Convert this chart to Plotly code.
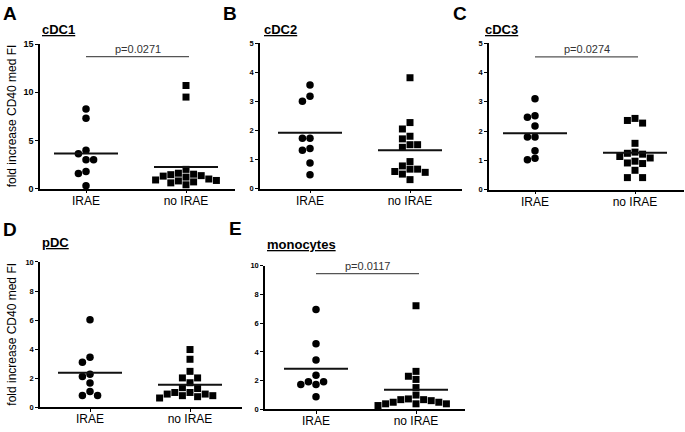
import numpy as np
import plotly.graph_objects as go

W, H = 685, 432

# ---------------- data ----------------
groups = ["IRAE", "no IRAE"]
panel_names = ["cDC1", "cDC2", "cDC3", "pDC", "monocytes"]
panel_letters = ["A", "B", "C", "D", "E"]

cdc1_irae = [8.26, 7.31, 3.98, 3.61, 3.0, 3.0, 1.79, 1.58, 0.30]
cdc1_no = [10.7, 9.5, 2.0, 1.6, 1.45, 1.5, 1.35, 1.3, 1.2, 1.0, 0.9, 0.85, 0.8, 0.7, 0.6, 0.4]

cdc2_irae = [3.56, 3.17, 3.0, 1.73, 1.73, 1.38, 1.32, 0.88, 0.48]
cdc2_no = [3.81, 2.27, 2.05, 1.8, 1.71, 1.51, 1.51, 1.42, 0.93, 0.78, 0.67, 0.67, 0.59, 0.56, 0.5, 0.31]

cdc3_irae = [3.10, 2.52, 2.47, 2.17, 1.80, 1.80, 1.33, 1.07, 1.02]
cdc3_no = [2.43, 2.36, 2.27, 1.58, 1.28, 1.24, 1.21, 1.13, 1.08, 0.97, 0.91, 0.89, 0.66, 0.41, 0.41]

pdc_irae = [6.02, 3.45, 3.11, 2.28, 2.13, 1.68, 1.10, 0.83, 0.83]
pdc_no = [3.98, 3.31, 2.48, 2.03, 2.03, 1.70, 1.36, 1.30, 1.03, 0.92, 0.81, 0.65, 0.74, 0.81, 0.92, 1.03]

mono_irae = [6.95, 4.57, 3.44, 2.38, 1.92, 1.92, 1.74, 1.74, 0.88]
mono_no = [7.22, 2.65, 2.31, 2.09, 1.52, 1.0, 0.73, 0.68, 0.68, 0.61, 0.5, 0.5, 0.39, 0.39, 0.39, 0.27]

irae_sets = [cdc1_irae, cdc2_irae, cdc3_irae, pdc_irae, mono_irae]
no_sets = [cdc1_no, cdc2_no, cdc3_no, pdc_no, mono_no]

y_max = [15, 5, 5, 10, 10]
y_dtick = [5, 1, 1, 2, 2]
p_labels = ["p=0.0271", None, "p=0.0274", None, "p=0.0117"]
p_heights = [13.7, None, 4.53, None, 9.46]

y_title = "fold increase CD40 med FI"

# ---------------- layout geometry (pixels) ----------------
boxes = [(40, 235, 40, 188), (260, 462, 39, 188), (489, 684, 39, 189),
         (40, 242, 263, 412), (265, 465, 267, 414)]
x_ranges = [(-0.46, 1.49), (-0.50, 1.52), (-0.46, 1.49), (-0.50, 1.52), (-0.51, 1.49)]
letter_pos = [(1, 9), (221, 9), (451, 9), (1, 230), (227, 229)]
sub_pos = [(40, 25), (262, 25), (483, 25), (40, 243), (265, 245)]
tick_font_size = [9, 7.5, 7.5, 7.5, 7.5]
xlabel_standoff = [-3, -3, -3, -4, -4]

FONT = "Liberation Sans, Arial, sans-serif"


def px(xp):
    return xp / W


def py(yp):
    return 1 - yp / H


def swarm(values, ppu_y, ppu_x, d=7.6):
    order = sorted(range(len(values)), key=lambda i: -values[i])
    placed = []
    offs = [0.0] * len(values)
    cands = [0]
    for k in range(1, 12):
        cands += [-k, k]
    for i in order:
        yv = values[i] * ppu_y
        for c in cands:
            if all(not (pc == c and abs(pyv - yv) < d) for pc, pyv in placed):
                break
        placed.append((c, yv))
        offs[i] = c * d / ppu_x
    return offs


fig = go.Figure()
layout = dict(
    width=W, height=H, margin=dict(l=0, r=0, t=0, b=0),
    paper_bgcolor="white", plot_bgcolor="white", showlegend=False,
    font=dict(family=FONT, color="black"),
)
annotations = []

for k in range(5):
    l, r, t, b = boxes[k]
    xr = x_ranges[k]
    suffix = "" if k == 0 else str(k + 1)
    xa, ya = "x" + suffix, "y" + suffix
    ppu_x = (r - l) / (xr[1] - xr[0])
    ppu_y = (b - t) / y_max[k]

    layout["xaxis" + suffix] = dict(
        domain=[px(l), px(r)], range=list(xr), anchor=ya,
        showgrid=False, zeroline=False, showline=True, linecolor="black", linewidth=1.5,
        tickmode="array", tickvals=[0, 1], ticktext=groups,
        ticks="outside", ticklen=3, tickwidth=1.2, tickcolor="black",
        ticklabelstandoff=xlabel_standoff[k],
        tickfont=dict(size=12, family=FONT, color="black"),
        fixedrange=True,
    )
    layout["yaxis" + suffix] = dict(
        domain=[py(b), py(t)], range=[0, y_max[k]], anchor=xa,
        showgrid=False, zeroline=False, showline=True, linecolor="black", linewidth=1.5,
        tickmode="linear", tick0=0, dtick=y_dtick[k],
        ticks="outside", ticklen=3, tickwidth=1.2, tickcolor="black",
        tickfont=dict(size=tick_font_size[k], family=FONT, color="black", weight="bold"),
        fixedrange=True,
    )

    for gi, (vals, sym) in enumerate([(irae_sets[k], "circle"), (no_sets[k], "square")]):
        offs = swarm(vals, ppu_y, ppu_x)
        xs = [gi + o for o in offs]
        fig.add_trace(go.Scatter(
            x=xs, y=vals, mode="markers", xaxis=xa, yaxis=ya, cliponaxis=False,
            marker=dict(symbol=sym, size=7.5 if sym == "circle" else 7, color="black",
                        line=dict(width=0)),
        ))
        m = float(np.mean(vals))
        fig.add_trace(go.Scatter(
            x=[gi - 0.32, gi + 0.32], y=[m, m], mode="lines", xaxis=xa, yaxis=ya,
            line=dict(color="#111", width=2), cliponaxis=False,
        ))

    if p_labels[k]:
        fig.add_trace(go.Scatter(
            x=[0.0, 1.03], y=[p_heights[k]] * 2, mode="lines", xaxis=xa, yaxis=ya,
            line=dict(color="#555", width=1.3), cliponaxis=False,
        ))
        annotations.append(dict(
            x=0.515, y=p_heights[k], xref=xa, yref=ya, text=p_labels[k],
            showarrow=False, yanchor="bottom", yshift=0,
            font=dict(size=11, family=FONT, color="#333"),
        ))

    lx, ly = letter_pos[k]
    annotations.append(dict(
        x=px(lx), y=py(ly), xref="paper", yref="paper", text="<b>%s</b>" % panel_letters[k],
        showarrow=False, xanchor="left", yanchor="middle",
        font=dict(size=19, family=FONT, color="black"),
    ))
    sx, sy = sub_pos[k]
    annotations.append(dict(
        x=px(sx), y=py(sy), xref="paper", yref="paper",
        text="<u><b>%s</b></u>" % panel_names[k],
        showarrow=False, xanchor="left", yanchor="middle",
        font=dict(size=13, family=FONT, color="black"),
    ))

for cy in [(40 + 188) / 2, (263 + 412) / 2]:
    annotations.append(dict(
        x=px(12), y=py(cy), xref="paper", yref="paper", text=y_title,
        showarrow=False, textangle=-90, xanchor="center", yanchor="middle",
        font=dict(size=12, family=FONT, color="black"),
    ))

layout["annotations"] = annotations
fig.update_layout(**layout)
fig.write_html("out.html", config={"displayModeBar": False},
               post_script="document.body.style.margin='0';")
